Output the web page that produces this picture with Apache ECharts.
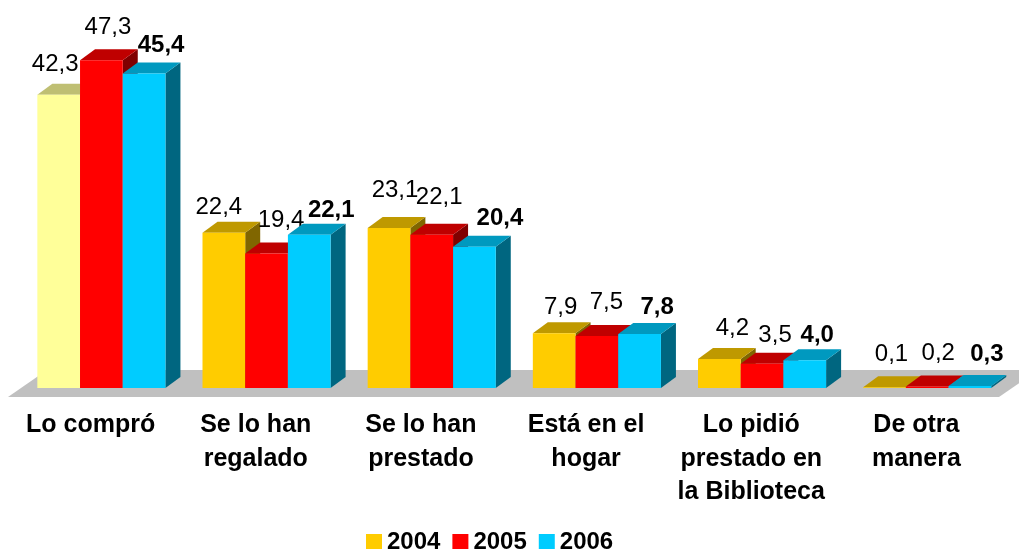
<!DOCTYPE html>
<html><head><meta charset="utf-8">
<style>html,body{margin:0;padding:0;background:#fff}#c{width:1019px;height:549px}</style>
<script src="https://cdn.jsdelivr.net/npm/echarts@6/dist/echarts.min.js"></script>
</head><body><div id="c"></div>
<script>
const categories = ['Lo compró','Se lo han\nregalado','Se lo han\nprestado','Está en el\nhogar','Lo pidió\nprestado en\nla Biblioteca','De otra\nmanera'];
const years = ['2004','2005','2006'];
const values2004 = [42.3,22.4,23.1,7.9,4.2,0.1];
const values2005 = [47.3,19.4,22.1,7.5,3.5,0.2];
const values2006 = [45.4,22.1,20.4,7.8,4.0,0.3];

// Styles (not data)
const palette = [
  {front:'#FFCC00',top:'#BF9900',side:'#806600'},
  {front:'#FF0000',top:'#BF0000',side:'#800000'},
  {front:'#00CCFF',top:'#0099BF',side:'#006680'}
];
const firstBarStyle = {front:'#FFFF99',top:'#BFBF73',side:'#808059'};
const labelShift = [
  [[-3.5,-30],[-5,-25],[6,-38],[6.5,-26],[13,-31],[7,-33]],
  [[6.5,-33],[14.5,-33],[7.5,-37],[9.5,-34],[13,-28],[11,-33]],
  [[17,-28],[22,-24],[25.5,-28],[17.5,-27],[12.5,-25],[17,-32]]
];
const DX = 15, DY = 11, BAR = 42.7, FLOOR_FRONT = 9, FLOOR_BACK = 18, FLOOR_DX = 39, SHIFT = 10.8;

function floorItem(params, api){
  const cs = params.coordSys, y0 = api.coord([0,0])[1];
  const l = cs.x, r = cs.x + cs.width;
  return {type:'polygon', silent:true, shape:{points:[
    [l,y0+FLOOR_FRONT],[r,y0+FLOOR_FRONT],[r+FLOOR_DX,y0-FLOOR_BACK],[l+FLOOR_DX,y0-FLOOR_BACK]
  ]}, style:{fill:'#C0C0C0'}};
}
function barRenderer(si, values){
  return function(params, api){
    const i = params.dataIndex, v = api.value(1);
    const c = api.coord([i,v]), b = api.coord([i,0]);
    const st = (si===0 && i===0) ? firstBarStyle : palette[si];
    const x0 = c[0] + SHIFT + (si-1.5)*BAR, x1 = x0 + BAR, t = c[1], y = b[1];
    const poly = (pts,fill)=>({type:'polygon',shape:{points:pts},style:{fill,stroke:null}});
    const bold = si===2;
    return {type:'group',children:[
      poly([[x1,y],[x1+DX,y-DY],[x1+DX,t-DY],[x1,t]],st.side),
      poly([[x0,t],[x0+DX,t-DY],[x1+DX,t-DY],[x1,t]],st.top),
      poly([[x0,y],[x1,y],[x1,t],[x0,t]],st.front),
      {type:'text',z2:100,style:{
        text:values[i].toFixed(1).replace('.',','),
        x:x0+BAR/2+labelShift[si][i][0], y:t+labelShift[si][i][1],
        align:'center',verticalAlign:'middle',
        font:(bold?'bold ':'')+'24px "Liberation Sans",Arial,sans-serif',fill:'#000'}}
    ]};
  };
}
const series = [{
  type:'custom',name:'floor',data:[[0,0]],renderItem:floorItem,silent:true,z:1,clip:false
}];
[values2004,values2005,values2006].forEach((vals,si)=>{
  series.push({type:'custom',name:years[si],z:2+si,clip:false,
    itemStyle:{color:palette[si].front},
    data:vals.map((v,i)=>[i,v]),
    encode:{x:0,y:1},
    renderItem:barRenderer(si,vals)});
});
const chart = echarts.init(document.getElementById('c'),null,{renderer:'canvas'});
chart.setOption({
  animation:false,
  backgroundColor:'#fff',
  grid:{left:8,width:991,top:41.5,height:346.5,containLabel:false},
  xAxis:{type:'category',data:categories,boundaryGap:true,
    axisLine:{show:false},axisTick:{show:false},
    axisLabel:{interval:0,margin:20.5,fontFamily:'"Liberation Sans",Arial,sans-serif',fontWeight:'bold',fontSize:25,lineHeight:33.5,color:'#000',hideOverlap:false}},
  yAxis:{type:'value',min:0,max:50,show:false,splitLine:{show:false}},
  legend:{data:years,left:361,top:525,icon:'rect',itemWidth:16,itemHeight:16,itemGap:12,selectedMode:false,
    textStyle:{fontFamily:'"Liberation Sans",Arial,sans-serif',fontWeight:'bold',fontSize:24,color:'#000'}},
  series
});
</script></body></html>
